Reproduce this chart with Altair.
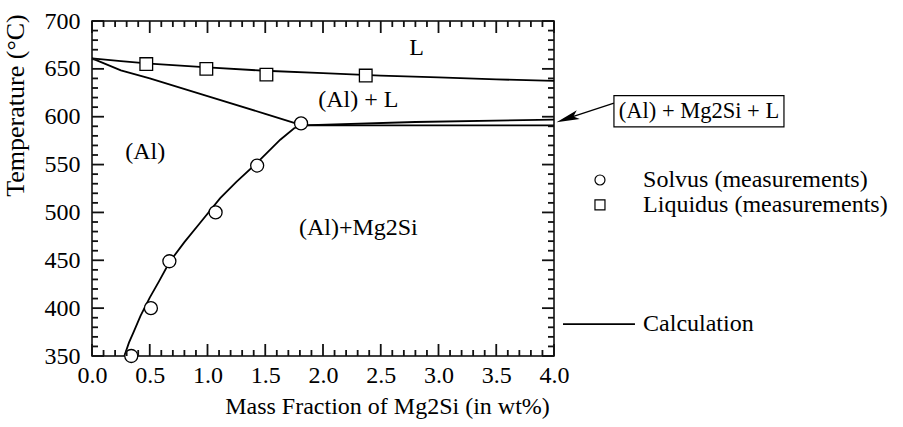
import altair as alt
import pandas as pd

# ---------------- data ----------------
# calculated phase boundaries
liq_calc_x = [0.0, 0.25, 0.5, 1.0, 1.5, 2.0, 2.5, 3.0, 3.5, 4.0]
liq_calc_y = [661, 658, 655.5, 651.5, 648, 645.5, 643, 641, 639, 637.5]
sol_calc_x = [0.0, 0.25, 0.5, 1.0, 1.5, 1.82]
sol_calc_y = [661, 648.5, 640, 621.5, 603, 591]
eut_low_x = [1.82, 4.0]
eut_low_y = [591, 591]
eut_up_x = [1.82, 2.8, 4.0]
eut_up_y = [591, 594.5, 597]
solvus_calc_x = [0.28, 0.32, 0.36, 0.42, 0.50, 0.58, 0.67, 0.80, 0.935, 1.11, 1.25, 1.43, 1.63, 1.75, 1.82]
solvus_calc_y = [350, 364, 375, 392, 411, 428, 448, 469, 489, 515, 532, 552, 576, 588, 591]

# measurements
solvus_x = [0.34, 0.51, 0.67, 1.07, 1.43, 1.81]
solvus_y = [350, 400, 449, 500, 549, 593]
liquidus_x = [0.47, 0.99, 1.51, 2.37]
liquidus_y = [655, 650, 644, 643]

# axis ticks
x_major = [0.0, 0.5, 1.0, 1.5, 2.0, 2.5, 3.0, 3.5, 4.0]
x_minor = [round(i * 0.1, 1) for i in range(41)]
y_major = [350, 400, 450, 500, 550, 600, 650, 700]
y_minor = list(range(350, 701, 10))

# region labels
region_text = ["L", "(Al) + L", "(Al)", "(Al)+Mg2Si"]
region_x = [2.81, 2.306, 0.46, 2.306]
region_y = [671.5, 617.5, 563.5, 483.4]

# legend / annotations
legend_text = ["Solvus (measurements)", "Liquidus (measurements)"]
legend_shape = ["circle", "square"]
calc_label = "Calculation"
box_label = "(Al) + Mg2Si + L"

# ---------------- layout ----------------
W, H = 462, 335
X0, X1, Y0, Y1 = 0.0, 4.0, 350, 700
FONT = "Liberation Serif"
FS = 24
MAJ, MIN = 12, 6          # tick lengths in px
PX_X = (X1 - X0) / W      # data units per px
PX_Y = (Y1 - Y0) / H

xs = alt.Scale(domain=[X0, X1], nice=False, zero=False)
ys = alt.Scale(domain=[Y0, Y1], nice=False, zero=False)

xaxis = alt.Axis(values=x_major, format=".1f", ticks=False, domain=False, grid=False,
                 labelFont=FONT, labelFontSize=FS, labelColor="black", labelPadding=7,
                 labelFlush=False, labelOverlap=False, labelBound=False,
                 title="Mass Fraction of Mg2Si (in wt%)", titleFont=FONT, titleFontSize=FS,
                 titleFontWeight="normal", titleColor="black", titleX=295, titleY=57,
                 titleAlign="center", titleBaseline="alphabetic")
yaxis = alt.Axis(values=y_major, format="d", ticks=False, domain=False, grid=False,
                 labelFont=FONT, labelFontSize=FS, labelColor="black", labelPadding=12,
                 labelFlush=False, labelOverlap=False, labelBound=False,
                 title="Temperature (°C)", titleFont=FONT, titleFontSize=26,
                 titleFontWeight="normal", titleColor="black", titleX=-69, titleY=84,
                 titleAngle=270, titleAlign="center", titleBaseline="alphabetic")


def X(f, **kw):
    return alt.X(f + ":Q", scale=xs, axis=xaxis, **kw)


def Y(f, **kw):
    return alt.Y(f + ":Q", scale=ys, axis=yaxis, **kw)


rows = []
for name, xx, yy in [("liq", liq_calc_x, liq_calc_y), ("sol", sol_calc_x, sol_calc_y),
                     ("eutl", eut_low_x, eut_low_y), ("eutu", eut_up_x, eut_up_y),
                     ("solv", solvus_calc_x, solvus_calc_y)]:
    for i, (a, b) in enumerate(zip(xx, yy)):
        rows.append({"series": name, "i": i, "x": a, "y": b})
calc_df = pd.DataFrame(rows)

lines = alt.Chart(calc_df).mark_line(color="black", strokeWidth=1.8).encode(
    x=X("x"), y=Y("y"), detail="series:N", order="i:Q")

# inward ticks on all four sides (segments in data units)
trows = []
for v in x_minor:
    L = MAJ if v in x_major else MIN
    trows.append({"tx": v, "tx2": v, "ty": Y0, "ty2": Y0 + L * PX_Y})
    trows.append({"tx": v, "tx2": v, "ty": Y1, "ty2": Y1 - L * PX_Y})
for v in y_minor:
    L = MAJ if v in y_major else MIN
    trows.append({"tx": X0, "tx2": X0 + L * PX_X, "ty": v, "ty2": v})
    trows.append({"tx": X1, "tx2": X1 - L * PX_X, "ty": v, "ty2": v})
ticks = alt.Chart(pd.DataFrame(trows)).mark_rule(color="#111111", strokeWidth=1.8).encode(
    x=X("tx"), x2="tx2:Q", y=Y("ty"), y2="ty2:Q")

solv_pts = alt.Chart(pd.DataFrame({"x": solvus_x, "y": solvus_y})).mark_point(
    shape="circle", size=169, fill="white", stroke="black", strokeWidth=1.3, opacity=1,
    fillOpacity=1).encode(x=X("x"), y=Y("y"))
liq_pts = alt.Chart(pd.DataFrame({"x": liquidus_x, "y": liquidus_y})).mark_point(
    shape="square", size=160, fill="white", stroke="black", strokeWidth=1.3, opacity=1,
    fillOpacity=1).encode(x=X("x"), y=Y("y"))

regions = alt.Chart(pd.DataFrame({"t": region_text, "x": region_x, "y": region_y})).mark_text(
    font=FONT, fontSize=FS, color="black", align="center", baseline="middle").encode(
    x=X("x"), y=Y("y"), text="t:N")

# annotation box with arrow (positions in data units, outside the domain)
box = alt.Chart(pd.DataFrame({"x": [4.519], "x2": [5.991], "y": [622.0], "y2": [589.3]})).mark_rect(
    fill="white", stroke="black", strokeWidth=1.2, clip=False).encode(
    x=X("x"), x2="x2:Q", y=Y("y"), y2="y2:Q")
box_txt = alt.Chart(pd.DataFrame({"t": [box_label], "x": [5.255], "y": [606.0]})).mark_text(
    font=FONT, fontSize=22.5, color="black", align="center", baseline="middle", clip=False).encode(
    x=X("x"), y=Y("y"), text="t:N")
arrow_line = alt.Chart(pd.DataFrame({"x": [4.519], "x2": [4.116], "y": [614.3], "y2": [598.2]})).mark_rule(
    color="black", strokeWidth=1.3, clip=False).encode(x=X("x"), x2="x2:Q", y=Y("y"), y2="y2:Q")
arrow_head = alt.Chart(pd.DataFrame({"x": [4.116], "y": [598.2]})).mark_point(
    shape="M -1 0 L 1 -0.4 L 0.55 0 L 1 0.4 Z", size=529, filled=True, color="black",
    opacity=1, angle=341, clip=False).encode(x=X("x"), y=Y("y"))

# legend
leg_df = pd.DataFrame({"t": legend_text, "s": legend_shape, "x": [4.398, 4.398], "tx": [4.771, 4.771],
                       "y": [533.9, 507.8]})
leg_pts = alt.Chart(leg_df).mark_point(size=100, fill="white", stroke="black", strokeWidth=1.2,
                                       opacity=1, clip=False).encode(
    x=X("x"), y=Y("y"),
    shape=alt.Shape("s:N", scale=alt.Scale(domain=legend_shape, range=legend_shape), legend=None))
leg_txt = alt.Chart(leg_df).mark_text(font=FONT, fontSize=FS, color="black", align="left",
                                      baseline="middle", clip=False).encode(
    x=X("tx"), y=Y("y"), text="t:N")
calc_line = alt.Chart(pd.DataFrame({"x": [4.078], "x2": [4.701], "y": [383.4]})).mark_rule(
    color="black", strokeWidth=1.8, clip=False).encode(x=X("x"), x2="x2:Q", y=Y("y"))
calc_txt = alt.Chart(pd.DataFrame({"t": [calc_label], "x": [4.771], "y": [383.4]})).mark_text(
    font=FONT, fontSize=FS, color="black", align="left", baseline="middle", clip=False).encode(
    x=X("x"), y=Y("y"), text="t:N")

chart = alt.layer(
    lines, solv_pts, liq_pts, regions, arrow_line, box, box_txt, arrow_head,
    leg_pts, leg_txt, calc_line, calc_txt, ticks
).properties(
    width=W, height=H,
    autosize=alt.AutoSizeParams(type="none"),
    padding={"left": 92, "top": 21, "right": 903 - 92 - W, "bottom": 427 - 21 - H},
    background="white",
).configure_view(stroke="black", strokeWidth=1.5)

chart.save("out.html", embed_options={"renderer": "svg", "actions": False})
